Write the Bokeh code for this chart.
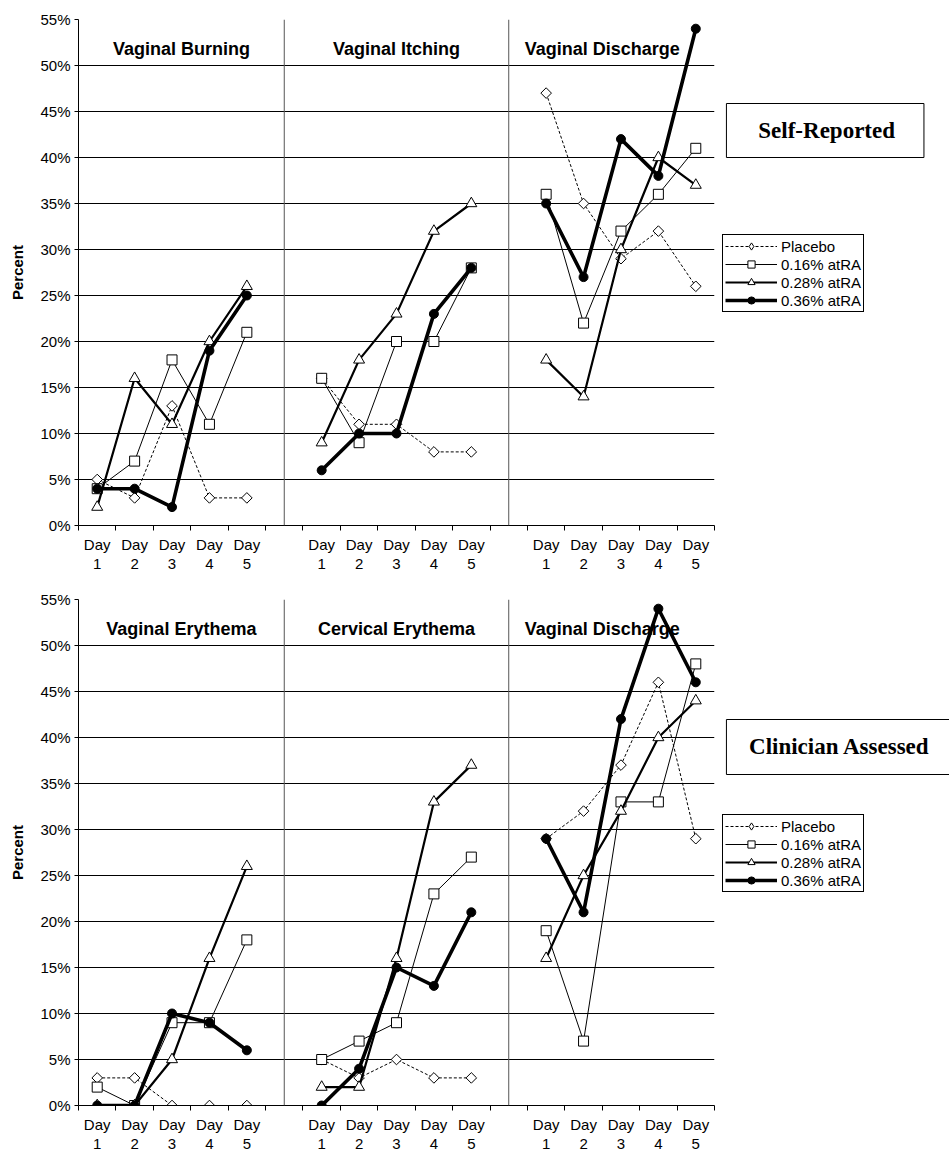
import numpy as np
from bokeh.plotting import figure
from bokeh.models import Range1d, FixedTicker, PrintfTickFormatter, Span, Legend, LegendItem
from bokeh.layouts import column, row
from bokeh.core.properties import value
from bokeh.embed import file_html
from bokeh.resources import INLINE

# ---------------- data ----------------
day_labels = ["Day\n1", "Day\n2", "Day\n3", "Day\n4", "Day\n5"]
series_names = ["Placebo", "0.16% atRA", "0.28% atRA", "0.36% atRA"]
y_ticks = [0, 5, 10, 15, 20, 25, 30, 35, 40, 45, 50, 55]

# Self-reported: values per series, panel by panel (Burning, Itching, Discharge), Day 1..5
self_title = "Self-Reported"
self_panels = ["Vaginal Burning", "Vaginal Itching", "Vaginal Discharge"]
self_placebo = [5, 3, 13, 3, 3,    16, 11, 11, 8, 8,     47, 35, 29, 32, 26]
self_016     = [4, 7, 18, 11, 21,  16, 9, 20, 20, 28,    36, 22, 32, 36, 41]
self_028     = [2, 16, 11, 20, 26, 9, 18, 23, 32, 35,    18, 14, 30, 40, 37]
self_036     = [4, 4, 2, 19, 25,   6, 10, 10, 23, 28,    35, 27, 42, 38, 54]

# Clinician assessed: (Vaginal Erythema, Cervical Erythema, Vaginal Discharge), Day 1..5
clin_title = "Clinician Assessed"
clin_panels = ["Vaginal Erythema", "Cervical Erythema", "Vaginal Discharge"]
clin_placebo = [3, 3, 0, 0, 0,     5, 3, 5, 3, 3,        29, 32, 37, 46, 29]
clin_016     = [2, 0, 9, 9, 18,    5, 7, 9, 23, 27,      19, 7, 33, 33, 48]
clin_028     = [0, 0, 5, 16, 26,   2, 2, 16, 33, 37,     16, 25, 32, 40, 44]
clin_036     = [0, 0, 10, 9, 6,    0, 4, 15, 13, 21,     29, 21, 42, 54, 46]

# ---------------- styling ----------------
SANS = "Liberation Sans"
SERIF = "Liberation Serif"
N_DAYS = len(day_labels)
N_PANELS = 3
SLOT = N_DAYS + 1
N_SLOTS = N_PANELS * SLOT - 1
SIDE_W = 231

STYLES = [
    dict(lw=1.0, dash="3 2", marker="square", angle=np.pi / 4, size=7.5, fill="white", lmarker="diamond"),
    dict(lw=1.0, dash="solid", marker="square", angle=0.0, size=10, fill="white", lmarker="square"),
    dict(lw=2.2, dash="solid", marker="triangle", angle=0.0, size=11, fill="white", lmarker="triangle"),
    dict(lw=3.6, dash="solid", marker="circle", angle=0.0, size=9, fill="black", lmarker="circle"),
]


def to_xy(vals):
    xs, ys = [], []
    for pi in range(N_PANELS):
        for d in range(N_DAYS):
            xs.append(pi * SLOT + d)
            ys.append(vals[pi * N_DAYS + d])
        if pi < N_PANELS - 1:
            xs.append(pi * SLOT + N_DAYS)
            ys.append(np.nan)
    return xs, ys


def make_chart(panels, series, height, btop, bbot):
    p = figure(width=718, height=height, title=None,
               x_range=Range1d(-0.5, N_SLOTS - 0.5), y_range=Range1d(0, 55),
               output_backend="svg", toolbar_location=None,
               min_border_left=78, min_border_right=4,
               min_border_top=btop, min_border_bottom=bbot)
    p.outline_line_color = None
    p.background_fill_color = "white"
    p.border_fill_color = "white"
    p.xgrid.visible = False

    yt = FixedTicker(ticks=y_ticks)
    p.yaxis.ticker = yt
    p.ygrid.ticker = yt
    p.ygrid.grid_line_color = "black"
    p.ygrid.grid_line_width = 1
    p.yaxis.formatter = PrintfTickFormatter(format="%d%%")
    p.yaxis.major_tick_out = 4
    p.yaxis.major_tick_in = 0
    p.yaxis.minor_tick_out = 0
    p.yaxis.minor_tick_in = 0
    p.yaxis.major_label_standoff = 4
    p.yaxis.major_label_text_font = SANS
    p.yaxis.major_label_text_font_size = "15px"
    p.yaxis.major_label_text_color = "black"
    p.yaxis.axis_line_color = "black"
    p.yaxis.major_tick_line_color = "black"
    p.yaxis.axis_label = "Percent"
    p.yaxis.axis_label_text_font = SANS
    p.yaxis.axis_label_text_font_style = "bold"
    p.yaxis.axis_label_text_font_size = "15px"
    p.yaxis.axis_label_text_color = "black"
    p.yaxis.axis_label_standoff = 11

    major = [pi * SLOT + d for pi in range(N_PANELS) for d in range(N_DAYS)]
    minor = [i - 0.5 for i in range(N_SLOTS + 1)]
    p.xaxis.ticker = FixedTicker(ticks=major, minor_ticks=minor)
    p.xaxis.major_label_overrides = {x: day_labels[i % N_DAYS] for i, x in enumerate(major)}
    p.xaxis.major_tick_out = 0
    p.xaxis.major_tick_in = 0
    p.xaxis.minor_tick_out = 5
    p.xaxis.minor_tick_in = 0
    p.xaxis.minor_tick_line_color = "black"
    p.xaxis.axis_line_color = "black"
    p.xaxis.major_label_standoff = 5
    p.xaxis.major_label_text_font = SANS
    p.xaxis.major_label_text_font_size = "15px"
    p.xaxis.major_label_text_color = "black"
    p.xaxis.major_label_text_line_height = 1.13

    for pi in range(N_PANELS - 1):
        p.add_layout(Span(location=pi * SLOT + N_DAYS, dimension="height",
                          line_color="#555555", line_width=1))

    p.text(x=[2.25, 8.0, 13.5], y=[51.8] * 3, text=panels,
           text_font=value(SANS), text_font_style="bold", text_font_size="18px",
           text_align="center", text_baseline="middle", text_color="black")

    for vals, st in zip(series, STYLES):
        xs, ys = to_xy(vals)
        p.line(xs, ys, line_color="black", line_width=st["lw"], line_dash=st["dash"],
               line_join="round")
        p.scatter(xs, ys, marker=st["marker"], size=st["size"], angle=st["angle"],
                  fill_color=st["fill"], line_color="black", line_width=1)
    return p


def blank_fig(height, **kw):
    f = figure(width=SIDE_W, height=height, title=None,
               x_range=Range1d(0, SIDE_W), y_range=Range1d(height, 0),
               output_backend="svg", toolbar_location=None,
               x_axis_location=None, y_axis_location=None, **kw)
    f.outline_line_color = None
    f.background_fill_color = "white"
    f.border_fill_color = "white"
    f.grid.visible = False
    return f


def make_side(title, height, legend_top, box, text_xy):
    # title box part
    t = blank_fig(legend_top, min_border=0)
    t.quad(left=[box[0]], right=[box[1]], top=[box[2]], bottom=[box[3]],
           fill_color="white", line_color="black", line_width=1)
    t.text(x=[text_xy[0]], y=[text_xy[1]], text=[title],
           text_font=value(SERIF), text_font_style="bold", text_font_size="23px",
           text_align="center", text_baseline="middle", text_color="black")
    # legend part
    g = blank_fig(height - legend_top, min_border=0, min_border_left=4)
    items = []
    for name, st in zip(series_names, STYLES):
        lr = g.line([-100, -90], [-100, -90], line_color="black", line_width=st["lw"],
                    line_dash=st["dash"])
        sr = g.scatter([-100], [-100], marker=st["lmarker"], size=st["size"],
                       fill_color=st["fill"], line_color="black", line_width=1)
        items.append(LegendItem(label=name, renderers=[lr, sr]))
    leg = Legend(items=items, location="top_left")
    leg.label_text_font = SANS
    leg.label_text_font_size = "15px"
    leg.label_text_color = "black"
    leg.glyph_width = 52
    leg.glyph_height = 18
    leg.label_height = 18
    leg.spacing = 0
    leg.padding = 2
    leg.margin = 0
    leg.label_standoff = 4
    leg.border_line_color = "black"
    leg.border_line_width = 1
    leg.border_line_alpha = 1
    leg.background_fill_color = "white"
    leg.background_fill_alpha = 1
    g.add_layout(leg)
    return column(t, g)


top_h, bot_h = 583, 572
top_chart = make_chart(self_panels, [self_placebo, self_016, self_028, self_036], top_h, 19, 58)
bot_chart = make_chart(clin_panels, [clin_placebo, clin_016, clin_028, clin_036], bot_h, 16, 50)
top_side = make_side(self_title, top_h, 234, (4, 205, 103, 157), (106, 130))
bot_side = make_side(clin_title, bot_h, 231, (4, 270, 136, 191), (119, 163))

layout = column(row(top_chart, top_side), row(bot_chart, bot_side))
open("out.html", "w").write(file_html(layout, INLINE))
